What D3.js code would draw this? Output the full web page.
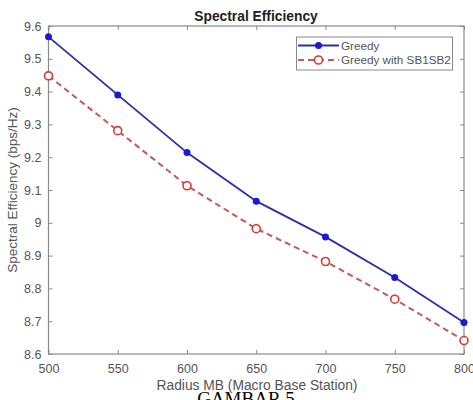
<!DOCTYPE html>
<html>
<head>
<meta charset="utf-8">
<script src="https://cdn.jsdelivr.net/npm/d3@7.9.0/dist/d3.min.js"></script>
<style>
  body { margin: 0; background: #fff; }
  svg { display: block; }
  text { font-family: "Liberation Sans", Arial, sans-serif; }
</style>
</head>
<body>
<div id="chart"></div>
<script>
// Spectral efficiency vs macro base station radius
const radius = [500, 550, 600, 650, 700, 750, 800];
const greedy = [9.567, 9.39, 9.214, 9.066, 8.957, 8.833, 8.696];
const greedySB = [9.448, 9.281, 9.113, 8.982, 8.882, 8.767, 8.641];
const xTicks = [500, 550, 600, 650, 700, 750, 800];
const yTicks = [8.6, 8.7, 8.8, 8.9, 9, 9.1, 9.2, 9.3, 9.4, 9.5, 9.6];

const width = 473;
const height = 400;
const area = { left: 48.5, right: 464, top: 26, bottom: 354 };

const svg = d3
  .select("#chart")
  .append("svg")
  .attr("width", width)
  .attr("height", height);

const x = d3.scaleLinear().domain([500, 800]).range([area.left, area.right]);
const y = d3.scaleLinear().domain([8.6, 9.6]).range([area.bottom, area.top]);

const axisColor = "#8a8a8a";
const labelColor = "#555";

// box + inward ticks on all four sides (matlab style)
svg.append("rect")
  .attr("x", area.left).attr("y", area.top)
  .attr("width", area.right - area.left).attr("height", area.bottom - area.top)
  .attr("fill", "none").attr("stroke", axisColor).attr("stroke-width", 1.2);

function styleAxis(g) {
  g.select(".domain").remove();
  g.selectAll(".tick line").attr("stroke", axisColor);
  g.selectAll(".tick text")
    .attr("fill", labelColor)
    .attr("font-size", 12.5);
}

svg.append("g")
  .attr("transform", `translate(0, ${area.bottom})`)
  .call(d3.axisBottom(x).tickValues(xTicks).tickSizeInner(-4).tickPadding(10))
  .call(styleAxis);

svg.append("g")
  .attr("transform", `translate(0, ${area.top})`)
  .call(d3.axisTop(x).tickValues(xTicks).tickSizeInner(-4).tickFormat(""))
  .call(styleAxis);

svg.append("g")
  .attr("transform", `translate(${area.left}, 0)`)
  .call(d3.axisLeft(y).tickValues(yTicks).tickSizeInner(-4).tickPadding(7).tickFormat((d) => d3.format("")(+d.toFixed(1))))
  .call(styleAxis);

svg.append("g")
  .attr("transform", `translate(${area.right}, 0)`)
  .call(d3.axisRight(y).tickValues(yTicks).tickSizeInner(-4).tickFormat(""))
  .call(styleAxis);

// series
const line = (vals) =>
  d3.line().x((d, i) => x(radius[i])).y((d) => y(d))(vals);

const blue = "#2c2fa6";
const blueMark = "#1a1ad0";
const red = "#c05a58";
const redMark = "#d43a34";

svg.append("path")
  .attr("d", line(greedySB))
  .attr("fill", "none")
  .attr("stroke", red)
  .attr("stroke-width", 2)
  .attr("stroke-dasharray", "6,4");

svg.append("path")
  .attr("d", line(greedy))
  .attr("fill", "none")
  .attr("stroke", blue)
  .attr("stroke-width", 1.8);

svg.append("g")
  .selectAll("circle")
  .data(greedy)
  .join("circle")
  .attr("cx", (d, i) => x(radius[i]))
  .attr("cy", (d) => y(d))
  .attr("r", 3.5)
  .attr("fill", blueMark);

svg.append("g")
  .selectAll("circle")
  .data(greedySB)
  .join("circle")
  .attr("cx", (d, i) => x(radius[i]))
  .attr("cy", (d) => y(d))
  .attr("r", 4)
  .attr("fill", "#fff")
  .attr("stroke", redMark)
  .attr("stroke-width", 1.6);

// title and axis labels
svg.append("text")
  .attr("x", 256)
  .attr("y", 21)
  .attr("text-anchor", "middle")
  .attr("font-size", 13.8)
  .attr("font-weight", "bold")
  .attr("fill", "#222")
  .text("Spectral Efficiency");

svg.append("text")
  .attr("transform", `translate(17, ${(area.top + area.bottom) / 2}) rotate(-90)`)
  .attr("text-anchor", "middle")
  .attr("font-size", 13.5)
  .attr("fill", labelColor)
  .text("Spectral Efficiency (bps/Hz)");

svg.append("text")
  .attr("x", 257)
  .attr("y", 390)
  .attr("text-anchor", "middle")
  .attr("font-size", 13.8)
  .attr("fill", labelColor)
  .text("Radius MB (Macro Base Station)");

svg.append("text")
  .attr("x", 246)
  .attr("y", 405)
  .attr("text-anchor", "middle")
  .attr("font-size", 19)
  .attr("fill", "#000")
  .style("font-family", "'Liberation Serif', 'Times New Roman', serif")
  .text("GAMBAR 5");

// legend
const legend = svg.append("g");
legend.append("rect")
  .attr("x", 296.5).attr("y", 37)
  .attr("width", 156).attr("height", 33)
  .attr("fill", "#fff").attr("stroke", axisColor).attr("stroke-width", 1);

const legendItems = [
  { label: "Greedy", color: blue, mark: blueMark, dash: null, filled: true },
  { label: "Greedy with SB1SB2", color: red, mark: redMark, dash: "6,4", filled: false },
];

legendItems.forEach((d, i) => {
  const ly = 45.5 + i * 14.5;
  legend.append("line")
    .attr("x1", 298).attr("x2", 339).attr("y1", ly).attr("y2", ly)
    .attr("stroke", d.color).attr("stroke-width", d.filled ? 1.8 : 2)
    .attr("stroke-dasharray", d.dash);
  legend.append("circle")
    .attr("cx", 318.5).attr("cy", ly)
    .attr("r", d.filled ? 3.5 : 4)
    .attr("fill", d.filled ? d.mark : "#fff")
    .attr("stroke", d.filled ? "none" : d.mark)
    .attr("stroke-width", 1.6);
  legend.append("text")
    .attr("x", 341).attr("y", ly + 4)
    .attr("font-size", 11.7)
    .attr("fill", labelColor)
    .text(d.label);
});
</script>
</body>
</html>
